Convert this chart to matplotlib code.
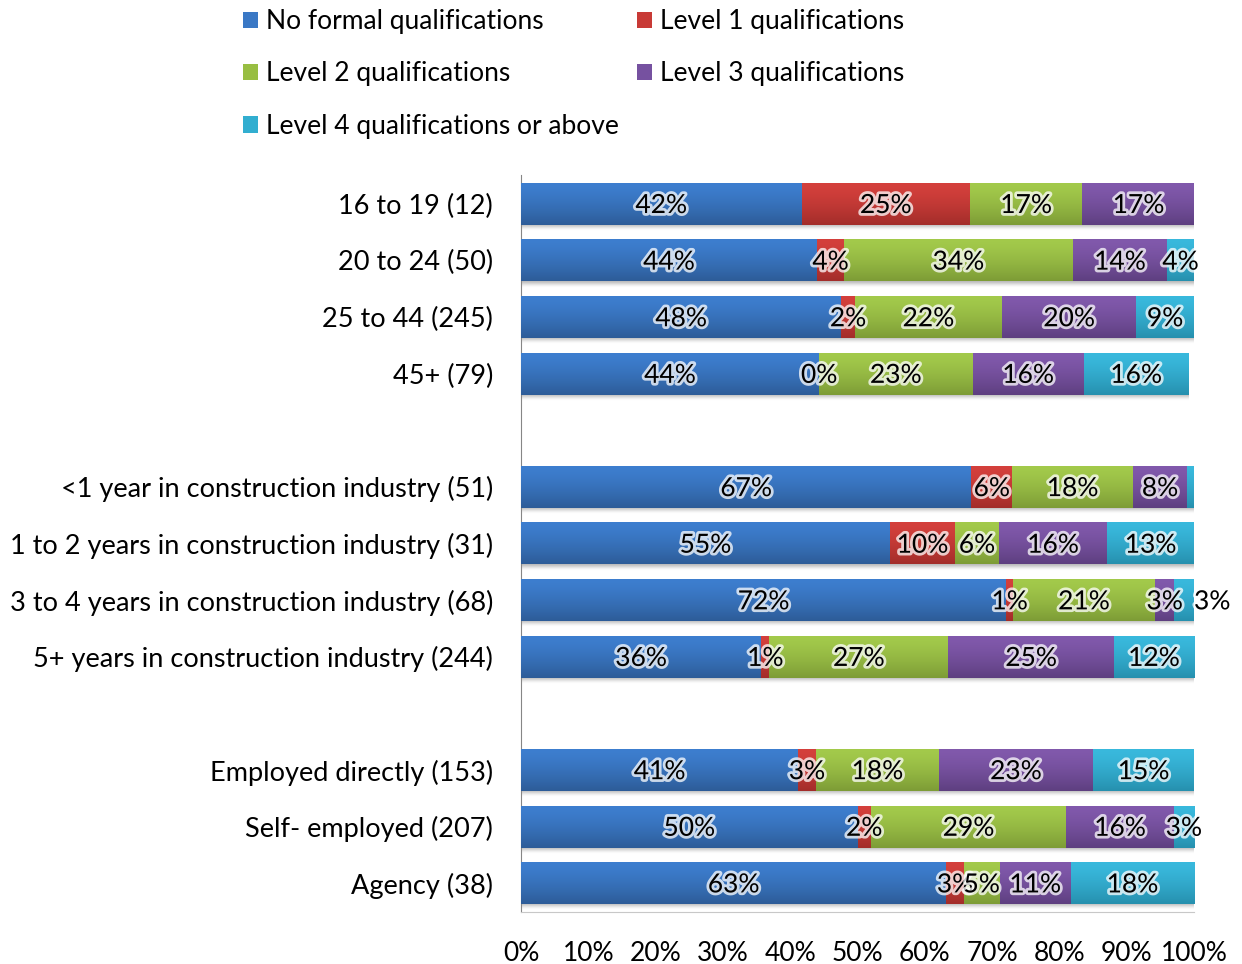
import matplotlib
matplotlib.use("Agg")
import matplotlib.pyplot as plt
import numpy as np
from matplotlib.patches import Patch
from matplotlib.colors import to_rgb
import matplotlib.patheffects as pe

plt.rcParams['font.family'] = ['Lato', 'DejaVu Sans']

categories = [
    "16 to 19 (12)", "20 to 24 (50)", "25 to 44 (245)", "45+ (79)",
    "<1 year in construction industry (51)",
    "1 to 2 years in construction industry (31)",
    "3 to 4 years in construction industry (68)",
    "5+ years in construction industry (244)",
    "Employed directly (153)", "Self- employed (207)", "Agency (38)",
]
groups = [0, 0, 0, 0, 1, 1, 1, 1, 2, 2, 2]

series_names = ["No formal qualifications", "Level 1 qualifications",
                "Level 2 qualifications", "Level 3 qualifications",
                "Level 4 qualifications or above"]
no_formal = [41.7, 44.0, 47.6, 44.3, 66.9, 54.8, 72.1, 35.7, 41.2, 50.0, 63.2]
level1    = [25.0, 4.0, 2.0, 0.0, 6.1, 9.7, 1.0, 1.2, 2.6, 2.0, 2.6]
level2    = [16.7, 34.0, 21.9, 22.8, 17.9, 6.5, 21.1, 26.6, 18.3, 29.0, 5.3]
level3    = [16.7, 14.0, 19.9, 16.5, 8.1, 16.1, 2.9, 24.6, 22.9, 16.0, 10.6]
level4    = [0.0, 4.0, 8.6, 15.6, 1.0, 12.9, 2.9, 11.9, 15.0, 3.0, 18.3]
hidden_labels = [(0, 4), (4, 4)]
outside_labels = [(6, 4)]

top_colors = ["#3D7ECF", "#D4403C", "#A3CA4B", "#8159AC", "#39B9DD"]
bot_colors = ["#2D5C98", "#A32D2A", "#7D9C36", "#5E3F80", "#2690AE"]
mid_colors = ["#3A78C5", "#C83A36", "#98BE42", "#7651A0", "#32AED0"]

data = [no_formal, level1, level2, level3, level4]

W, H = 1242, 964
fig = plt.figure(figsize=(W / 100, H / 100), dpi=100)
ax = fig.add_axes([521 / W, 1 - 911.5 / H, (1194 - 521) / W, (911.5 - 175.5) / H])

ypos = np.arange(len(categories)) + np.array(groups)
bh = 0.74
left = np.zeros(len(categories))
fs = 19

def vgrad(c_top, c_bot, n=64, alpha_top=1.0, alpha_bot=1.0):
    t = np.linspace(0, 1, n)[:, None]
    t = t ** 1.4
    ct = np.array(to_rgb(c_top)); cb = np.array(to_rgb(c_bot))
    rgb = ct[None, :] * (1 - t) + cb[None, :] * t
    a = alpha_top * (1 - t) + alpha_bot * t
    return np.concatenate([rgb, a], axis=1)[:, None, :]

containers = []
for k, vals in enumerate(data):
    bars = ax.barh(ypos, vals, left=left, height=bh, color=mid_colors[k],
                   linewidth=0, zorder=2)
    containers.append((bars, left.copy()))
    for p in bars:
        x0, y0, w, h = p.get_x(), p.get_y(), p.get_width(), p.get_height()
        if w > 0:
            ax.imshow(vgrad(top_colors[k], bot_colors[k]), extent=[x0, x0 + w, y0 + h, y0],
                      aspect='auto', zorder=3, interpolation='bilinear')
    left = left + np.array(vals)

# shadows under each bar row
for i, y in enumerate(ypos):
    ax.imshow(vgrad("#808080", "#FFFFFF", alpha_top=0.55, alpha_bot=0.0),
              extent=[0, left[i], y + bh / 2 + 0.11, y + bh / 2], aspect='auto',
              zorder=1, interpolation='bilinear')

# data labels
for k, vals in enumerate(data):
    bars, lft = containers[k]
    for i, v in enumerate(vals):
        if (i, k) in hidden_labels:
            continue
        txt = f"{v:.0f}%"
        if (i, k) in outside_labels:
            x = lft[i] + v
            ha = 'left'
        else:
            x = lft[i] + v / 2
            ha = 'center'
        ax.text(x, ypos[i] + 0.03, txt, ha=ha, va='center', fontsize=fs, color='black', zorder=5,
                path_effects=[pe.withStroke(linewidth=4, foreground='white', alpha=0.75)])

ax.set_xlim(0, 100)
ax.set_ylim(ypos[-1] + 0.5, -0.5)
ax.set_xticks(np.arange(0, 101, 10))
ax.set_xticklabels([f"{t}%" for t in range(0, 101, 10)], fontsize=fs)
ax.set_yticks(ypos)
ax.set_yticklabels(categories, fontsize=19.5)
ax.tick_params(axis='x', length=0, pad=21)
ax.tick_params(axis='y', length=0, pad=20)
for s in ['top', 'right']:
    ax.spines[s].set_visible(False)
ax.spines['left'].set_color('#868686')
ax.spines['bottom'].set_color('#C8C8C8')
ax.set_facecolor('white')

handles = [Patch(facecolor=mid_colors[k], edgecolor='none', label=series_names[k]) for k in range(5)]
order = [0, 2, 4, 1, 3]
fig.legend([handles[i] for i in order], [series_names[i] for i in order],
           loc='upper left', bbox_to_anchor=(243 / W, 1 - 9 / H), ncol=2, frameon=False,
           fontsize=fs, handlelength=0.57, handleheight=0.57, handletextpad=0.32,
           labelspacing=1.04, columnspacing=0.65, borderpad=0, borderaxespad=0)

fig.savefig("out.png", dpi=100, facecolor='white')
